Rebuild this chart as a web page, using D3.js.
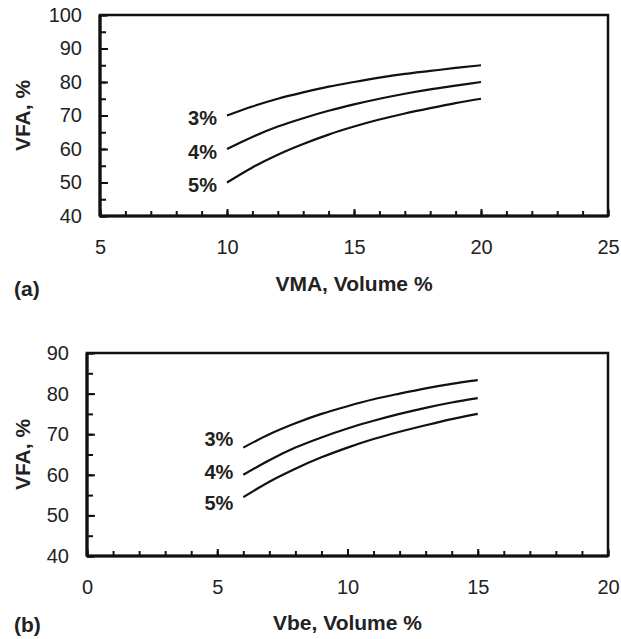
<!DOCTYPE html>
<html><head><meta charset="utf-8">
<script src="https://cdn.jsdelivr.net/npm/d3@7"></script>
<style>
body{margin:0;background:#fff;}
svg{display:block;font-family:"Liberation Sans",Arial,sans-serif;}
</style></head>
<body><svg id="c" width="621" height="639"></svg>
<script>
// Panel (a): VFA vs VMA
const vmaX = [10,11,12,13,14,15,16,17,18,19,20];
const vfaA3 = [70,72.7,75,76.9,78.6,80,81.3,82.4,83.3,84.2,85];
const vfaA4 = [60,63.6,66.7,69.2,71.4,73.3,75,76.5,77.8,78.9,80];
const vfaA5 = [50,54.5,58.3,61.5,64.3,66.7,68.8,70.6,72.2,73.7,75];
// Panel (b): VFA vs Vbe
const vbeX = [6,7,8,9,10,11,12,13,14,15];
const vfaB3 = [66.7,70,72.7,75,76.9,78.6,80,81.3,82.4,83.3];
const vfaB4 = [60,63.6,66.7,69.2,71.4,73.3,75,76.5,77.8,78.9];
const vfaB5 = [54.5,58.3,61.5,64.3,66.7,68.8,70.6,72.2,73.7,75];
const seriesLabels = ["3%","4%","5%"];
// label anchor values (VFA) where the series labels sit
const labelYA = [69.2, 59.1, 49.4];
const labelYB = [68.8, 60.7, 53.0];
const xTicksA = [5,10,15,20,25];
const yTicksA = [40,50,60,70,80,90,100];
const xTicksB = [0,5,10,15,20];
const yTicksB = [40,50,60,70,80,90];

const svg = d3.select("#c");

function panel(o){
  const g = svg.append("g");
  const x = d3.scaleLinear().domain(o.xDomain).range([o.left,o.right]);
  const y = d3.scaleLinear().domain(o.yDomain).range([o.bottom,o.top]);
  g.append("g").attr("transform",`translate(0,${o.bottom})`)
    .call(d3.axisBottom(x).tickValues(d3.range(o.xDomain[0],o.xDomain[1]+0.001,1)).tickSize(-5).tickFormat(""))
    .call(s=>s.select(".domain").remove())
    .call(s=>s.selectAll("line").attr("stroke","#111").attr("stroke-width",2));
  g.append("g").attr("transform",`translate(0,${o.bottom})`)
    .call(d3.axisBottom(x).tickValues(o.xTicks).tickSize(-7).tickPadding(24).tickFormat(d3.format("d")))
    .call(s=>s.select(".domain").remove())
    .call(s=>s.selectAll("line").attr("stroke","#111").attr("stroke-width",2))
    .call(s=>s.selectAll("text").attr("font-size",20).attr("fill","#222").attr("font-family","Liberation Sans, Arial, sans-serif"));
  g.append("g").attr("transform",`translate(${o.left},0)`)
    .call(d3.axisLeft(y).tickValues(d3.range(o.yDomain[0],o.yDomain[1]+0.001,5)).tickSize(-6).tickFormat(""))
    .call(s=>s.select(".domain").remove())
    .call(s=>s.selectAll("line").attr("stroke","#111").attr("stroke-width",2));
  g.append("g").attr("transform",`translate(${o.left},0)`)
    .call(d3.axisLeft(y).tickValues(o.yTicks).tickSize(-8).tickPadding(18).tickFormat(d3.format("d")))
    .call(s=>s.select(".domain").remove())
    .call(s=>s.selectAll("line").attr("stroke","#111").attr("stroke-width",2))
    .call(s=>s.selectAll("text").attr("font-size",20).attr("fill","#222").attr("font-family","Liberation Sans, Arial, sans-serif"));
  g.append("rect").attr("x",o.left).attr("y",o.top).attr("width",o.right-o.left).attr("height",o.bottom-o.top)
    .attr("fill","none").attr("stroke","#111").attr("stroke-width",2.5);
  g.append("line").attr("x1",o.left).attr("x2",o.left).attr("y1",o.top).attr("y2",o.bottom).attr("stroke","#111").attr("stroke-width",3.2);
  g.append("line").attr("x1",o.left).attr("x2",o.right).attr("y1",o.bottom).attr("y2",o.bottom).attr("stroke","#111").attr("stroke-width",3.2);
  const line = d3.line().x(d=>x(d[0])).y(d=>y(d[1])).curve(d3.curveMonotoneX);
  o.series.forEach((s,i)=>{
    const pts = o.xs.map((xv,j)=>[xv,s[j]]);
    g.append("path").attr("d",line(pts)).attr("fill","none").attr("stroke","#111").attr("stroke-width",2.2);
    g.append("text").attr("x",x(o.xs[0])-10).attr("y",y(o.labelY[i])+7)
      .attr("text-anchor","end").attr("font-weight","bold").attr("font-size",20).attr("fill","#222")
      .text(seriesLabels[i]);
  });
  g.append("text").attr("x",(o.left+o.right)/2).attr("y",o.xTitleY).attr("text-anchor","middle")
    .attr("font-weight","bold").attr("font-size",21).attr("fill","#222").text(o.xTitle);
  g.append("text").attr("transform",`translate(${o.yTitleX},${(o.top+o.bottom)/2}) rotate(-90)`)
    .attr("text-anchor","middle").attr("font-weight","bold").attr("font-size",21).attr("fill","#222").text("VFA, %");
  g.append("text").attr("x",14).attr("y",o.tagY).attr("font-weight","bold").attr("font-size",21).attr("fill","#222").text(o.tag);
}

panel({xDomain:[5,25],yDomain:[40,100],left:100,right:608,top:15,bottom:216,
  xTicks:xTicksA,yTicks:yTicksA,xs:vmaX,series:[vfaA3,vfaA4,vfaA5],labelY:labelYA,
  xTitle:"VMA, Volume %",xTitleY:291,yTitleX:30,tag:"(a)",tagY:296});
panel({xDomain:[0,20],yDomain:[40,90],left:87,right:608,top:353,bottom:556,
  xTicks:xTicksB,yTicks:yTicksB,xs:vbeX,series:[vfaB3,vfaB4,vfaB5],labelY:labelYB,
  xTitle:"Vbe, Volume %",xTitleY:630,yTitleX:30,tag:"(b)",tagY:632});
</script></body></html>
